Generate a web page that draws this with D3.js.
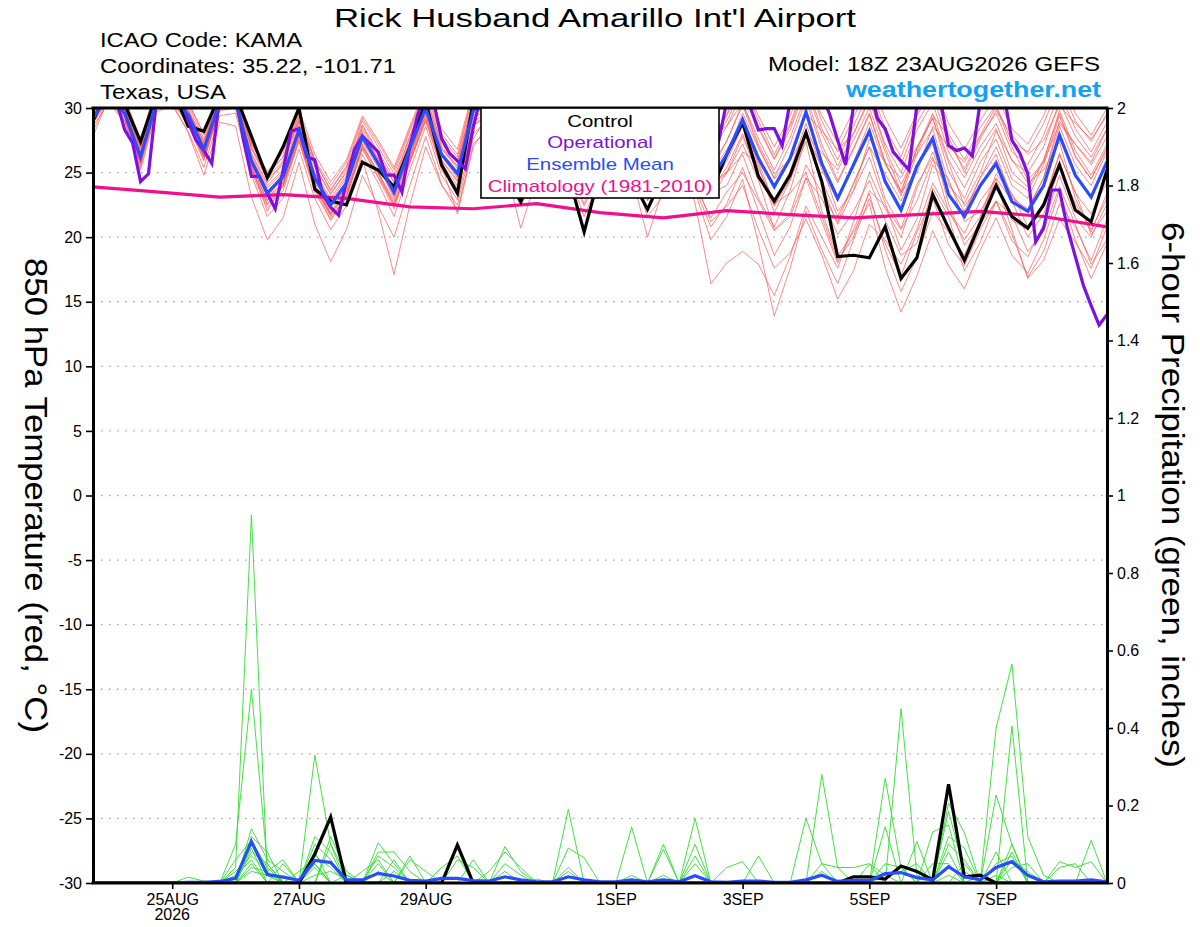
<!DOCTYPE html>
<html><head><meta charset="utf-8">
<script src="https://cdn.jsdelivr.net/npm/d3@7"></script>
<style>
html,body{margin:0;padding:0;background:#fff;}
svg{display:block;font-family:"Liberation Sans",Arial,Helvetica,sans-serif;}
</style></head><body>
<svg id="chart" width="1200" height="927"></svg>
<script>
// ---------------- DATA ----------------
const runStart = "2026-08-23T18:00:00Z";       // GEFS 18Z 23AUG2026, 6-hourly to +384h
const nSteps6h = 65;
const nSteps3h = 129;
const climDays = 17;

const tempTicks = [-30,-25,-20,-15,-10,-5,0,5,10,15,20,25,30];
const precipTicks = [0,0.2,0.4,0.6,0.8,1,1.2,1.4,1.6,1.8,2];
const xTickDates = ["2026-08-25","2026-08-27","2026-08-29","2026-09-01","2026-09-03","2026-09-05","2026-09-07"];
const xTickLabels = ["25AUG","27AUG","29AUG","1SEP","3SEP","5SEP","7SEP"];
const xYearLabel = "2026";

// Control (black) 850 hPa temperature, 6-hourly
const controlTemp = [29.0,31.5,30.3,27.4,31.0,31.5,28.6,28.2,31.0,31.0,
 27.8,24.6,27.0,30.0,23.7,22.8,22.5,25.8,25.2,23.9,
 27.0,30.5,25.6,23.4,30.5,31.0,25.0,22.75,25.5,29.5,
 24.8,20.4,25.0,29.0,24.5,22.15,24.8,29.5,27.0,23.5,
 26.4,28.9,24.7,22.8,24.8,28.1,24.3,18.5,18.6,18.4,
 20.8,16.8,18.4,23.3,20.7,18.2,21.1,24.0,21.6,20.7,
 22.5,25.6,22.1,21.2,25.2];

// Ensemble mean (blue)
const meanTemp = [29.2,31.0,29.6,26.2,30.5,31.0,29.5,26.8,30.5,30.5,
 25.9,23.4,24.7,28.3,24.6,22.5,24.2,27.8,25.7,23.5,
 26.9,30.0,26.4,24.9,29.8,30.5,27.5,25.0,27.5,30.0,
 27.0,24.5,27.0,30.0,27.5,25.0,27.0,30.0,27.5,24.5,
 26.4,29.1,26.1,23.9,26.1,29.7,25.7,23.0,25.6,28.2,
 24.3,22.1,25.5,27.65,23.3,21.6,24.0,25.7,22.75,22.0,
 24.0,27.9,24.8,23.1,25.85];

// Operational GFS (purple), 3-hourly
const operTemp = [30.5,31.5,32,30.5,28.3,27.3,24.3,24.9,30.5,32,
 32,31,29,27.5,26.7,25.7,31,32,31,27.5,
 24.7,24.7,23.4,22.2,25.2,28.2,28.4,26.2,26.0,23.3,
 22.3,21.7,24.3,26.8,27.8,27.2,26.6,24.8,24.8,23.5,
 27.0,29.5,31,30.5,27.65,26.5,25.9,25.3,28.5,31,
 32,31,29,27.5,26.5,27,30,32,33,31,
 28.5,26.5,25.5,26.5,29.5,31.5,32,30.5,28,26.5,
 25.5,27,29.5,31.5,32,30.5,28,26.5,26,27.5,
 30.5,32,32,30,28.3,28.4,28.4,27.1,30.5,32,
 33,32.5,31,29.5,27.5,25.6,30.2,31.5,32,29.2,
 28.4,26.6,25.9,25.2,30.2,32,32.5,30.5,27.1,26.7,
 26.9,26.3,30.5,32,32.5,31,27.5,26.5,24.9,19.65,
 20.7,23.65,23.65,20.7,18.5,16.3,14.7,13.2,14.0];

// Climatology 1981-2010 (pink), daily at 18Z
const climTemp = [23.9,23.5,23.1,23.3,23.0,22.35,22.2,22.6,21.9,21.5,22.05,21.75,21.5,21.75,22.0,21.6,20.8];

// Ensemble members (red), 6-hourly
const memberTemps = [
[29.5,31.5,30.2,26.8,31.0,31.8,29.8,27.2,31.2,31.0,26.5,24.2,25.8,29.0,25.5,23.4,25.0,28.6,26.4,24.3,27.8,30.8,27.2,25.8,30.5,31.2,28.3,25.6,28.4,30.9,27.6,25.0,27.9,30.6,28.0,25.2,27.8,30.9,28.2,25.0,27.5,30.2,27.0,24.6,27.2,30.6,26.8,24.2,26.9,29.6,25.8,23.4,26.9,29.2,25.1,23.0,25.8,27.6,24.5,23.6,25.9,29.8,26.7,24.8,27.2],
[28.8,30.6,29.0,25.4,30.0,30.5,28.7,25.9,29.8,30.0,25.0,22.3,23.6,27.4,23.5,21.3,23.1,26.9,24.6,22.2,25.8,29.1,25.2,23.6,28.7,29.6,26.2,23.6,26.3,28.9,25.8,23.2,25.6,28.7,26.0,23.5,25.4,27.0,24.0,21.5,23.5,25.0,22.8,20.5,21.6,24.6,23.0,20.2,22.0,24.4,21.3,18.6,19.5,23.8,21.6,17.4,19.6,22.8,21.7,18.9,20.5,23.9,21.0,17.9,19.8],
[29.3,31.2,29.8,26.0,30.8,31.3,29.2,26.4,30.7,30.8,26.2,23.8,25.0,28.6,24.9,22.8,24.6,28.0,26.1,23.8,27.3,30.4,26.9,25.3,30.3,31.0,28.0,25.8,28.2,30.8,28.2,25.9,28.4,31.2,28.9,26.5,28.5,31.3,29.0,26.5,28.6,31.2,28.4,26.0,28.3,31.6,28.0,25.5,28.0,30.6,27.2,25.0,28.3,30.4,26.6,24.6,27.0,28.8,25.9,25.0,27.0,30.5,27.8,26.2,28.4],
[27.8,30.8,29.3,25.6,30.2,30.4,28.1,24.8,28.9,28.6,23.1,19.8,21.5,25.8,21.0,18.1,20.6,24.8,22.4,20.0,24.0,27.8,24.1,22.0,27.2,28.5,25.0,22.4,25.3,28.1,25.2,22.6,25.4,28.5,26.0,23.4,25.6,28.8,26.2,23.6,25.4,28.0,24.9,22.5,24.8,28.2,24.4,21.6,24.1,27.0,23.0,20.7,24.1,26.2,22.0,20.3,22.8,24.5,21.3,20.6,22.7,26.5,23.4,21.8,24.3],
[29.6,31.4,30.0,26.5,30.9,31.5,29.6,27.0,30.8,30.9,26.0,23.1,24.2,28.0,24.0,21.6,23.0,26.0,22.0,17.1,22.5,27.0,24.0,22.5,27.6,29.6,27.0,24.6,27.0,29.8,26.6,23.9,26.3,29.4,26.0,22.8,24.5,27.6,23.5,19.8,21.6,24.5,19.5,13.9,17.6,22.0,19.0,16.4,19.8,23.0,19.5,17.0,20.4,23.0,19.4,17.8,20.6,22.8,19.7,18.5,21.0,24.8,21.5,20.0,22.6],
[29.8,32.0,30.8,27.6,31.6,32.2,30.5,28.0,31.6,31.8,27.3,25.0,26.2,29.6,26.0,24.0,25.8,29.2,27.3,25.2,28.4,31.4,28.0,26.4,31.2,31.8,29.0,26.8,29.0,31.6,28.6,26.0,28.6,31.4,28.5,26.0,28.1,31.0,29.2,27.8,28.6,30.4,27.2,24.9,26.0,29.6,28.2,26.8,28.0,30.8,26.9,24.1,26.5,29.4,27.8,25.0,27.6,29.8,27.9,26.4,27.5,30.2,28.8,27.6,29.4],
[29.1,31.0,29.4,25.9,30.4,30.9,29.0,26.3,30.2,30.3,25.6,22.8,24.0,27.8,23.9,21.8,23.6,27.2,25.0,22.6,26.0,29.4,25.6,21.8,27.0,28.8,25.6,20.7,24.6,28.0,25.0,21.6,24.6,28.0,24.8,20.0,23.8,27.3,22.6,16.4,18.0,18.9,17.9,15.5,18.5,22.4,20.0,17.6,21.2,25.0,22.2,20.0,23.8,26.6,23.4,21.8,24.6,27.0,24.0,23.0,25.6,29.4,26.2,24.5,27.0],
[29.4,31.3,30.0,26.6,30.7,31.2,29.6,27.0,30.9,31.0,26.4,24.0,25.2,28.9,25.0,23.0,24.8,28.4,26.3,24.2,27.5,30.6,27.0,25.5,30.4,31.2,28.4,26.0,28.5,31.0,28.3,26.0,28.5,31.3,29.0,26.9,29.0,32.0,29.8,27.4,29.5,32.0,29.4,27.0,29.4,32.4,29.0,26.6,29.3,31.8,28.4,26.2,29.4,31.5,28.0,26.0,28.5,30.2,27.4,26.6,28.8,31.8,29.0,27.4,29.6],
[29.2,30.9,29.5,26.1,30.5,31.0,29.3,26.7,30.4,30.6,25.8,23.2,24.5,28.2,24.4,22.3,23.9,27.5,25.6,23.0,26.6,29.8,26.3,24.6,29.6,30.2,27.2,24.8,27.3,29.6,26.4,23.7,26.4,29.4,26.8,24.1,26.0,29.1,26.3,23.4,24.0,26.6,25.8,22.6,23.4,25.0,21.6,18.2,20.0,23.6,22.4,20.6,22.8,26.0,24.5,21.2,22.0,24.2,20.6,16.8,18.2,21.4,19.6,17.6,20.8],
[29.0,30.7,29.1,25.7,30.1,30.6,28.8,26.2,30.0,30.1,25.3,22.6,23.9,27.6,23.8,21.7,23.3,27.0,24.9,22.4,25.9,29.2,25.7,24.0,28.9,29.8,26.8,24.2,26.8,29.4,26.3,23.6,26.1,29.2,26.6,23.9,25.8,28.9,26.0,23.0,25.0,27.8,24.8,22.4,24.5,27.4,22.0,18.5,20.4,22.6,17.6,14.2,17.0,20.5,17.8,16.0,19.0,21.5,18.6,17.2,19.8,23.6,19.8,16.8,19.5],
[29.5,31.6,30.3,27.0,31.1,31.7,29.9,27.3,31.1,31.3,26.8,24.5,25.6,29.3,25.4,23.3,25.2,28.7,26.6,24.6,27.8,30.9,27.4,25.9,30.6,31.4,28.6,26.3,28.6,31.2,28.0,25.4,27.8,30.6,27.6,24.9,26.8,29.6,26.5,23.8,25.9,28.6,25.3,22.8,25.1,28.8,25.2,22.8,25.8,28.9,25.6,23.6,26.8,29.6,26.0,23.8,26.4,28.4,25.0,23.9,26.0,29.6,26.3,24.5,26.8],
[28.2,30.8,29.2,25.8,30.2,30.8,28.9,26.0,29.9,30.0,25.2,22.5,24.0,27.5,23.7,21.4,23.2,26.8,24.7,22.5,25.8,29.0,25.4,23.8,28.6,29.5,26.5,24.0,26.6,29.0,26.0,23.4,25.9,28.8,25.9,22.9,24.6,27.6,24.4,21.2,22.4,24.0,20.6,17.6,18.8,21.4,18.6,15.2,17.4,21.0,19.8,17.9,20.6,24.2,22.0,19.8,21.6,24.9,23.4,20.8,22.6,26.4,23.5,20.2,22.0],
[29.7,31.8,30.5,27.3,31.4,32.0,30.2,27.6,31.4,31.5,27.0,24.6,25.9,29.5,25.8,23.7,25.5,29.0,27.0,24.9,28.2,31.2,27.7,26.2,31.0,31.6,28.8,26.5,28.8,31.4,28.9,26.6,29.0,31.8,29.4,27.1,29.2,32.0,29.5,27.0,29.0,31.6,28.6,26.1,28.6,31.8,28.4,26.0,28.6,31.3,28.0,25.6,28.8,31.0,27.3,25.3,27.8,29.6,26.6,25.6,27.9,31.2,28.4,26.6,28.9],
[29.3,31.1,29.7,26.3,30.6,31.1,29.4,26.6,30.5,30.6,25.9,23.5,24.9,28.4,24.7,22.6,24.3,27.9,25.9,23.6,27.0,30.2,26.6,25.1,29.9,30.6,27.6,25.1,27.6,30.1,27.0,24.3,26.8,29.9,27.0,24.2,26.2,29.4,26.5,23.8,25.0,26.4,23.0,20.8,23.6,27.8,25.5,22.0,23.6,26.2,22.6,19.0,21.4,25.6,24.0,22.6,25.0,28.2,26.0,24.2,25.2,27.4,23.0,20.4,23.4],
[29.4,31.3,29.9,26.4,30.8,31.4,29.6,26.9,30.7,30.9,26.1,23.6,24.8,28.4,24.6,22.4,24.1,27.7,25.6,23.3,26.8,30.1,26.4,24.8,29.8,30.6,27.8,25.4,27.9,30.5,27.6,25.1,27.6,30.6,28.0,25.6,27.6,30.6,28.0,25.5,27.4,30.4,27.6,25.2,27.7,31.0,27.2,24.4,26.8,29.5,25.8,23.2,26.4,28.4,24.2,22.0,24.6,26.4,23.0,22.2,24.6,28.6,25.6,24.0,26.6],
[29.0,30.9,29.4,25.8,30.3,30.8,29.0,26.2,30.1,30.2,25.4,22.9,24.2,27.9,24.0,21.8,23.5,27.1,25.0,22.8,26.2,29.5,25.9,24.3,29.2,30.0,27.0,24.5,27.0,29.6,26.8,24.0,26.6,29.6,27.2,24.6,26.6,29.6,27.0,24.4,26.4,29.6,26.9,24.5,26.0,28.0,24.0,21.0,23.6,27.6,25.8,24.6,27.0,29.2,25.8,22.4,24.0,26.0,23.2,22.0,24.6,29.0,27.2,25.8,28.4],
[29.1,31.2,29.9,26.9,30.9,31.6,29.9,27.4,31.0,31.1,26.9,24.8,26.2,29.1,25.9,23.6,25.4,28.2,26.0,23.2,26.2,29.9,26.8,25.5,30.2,30.9,27.4,24.6,26.9,29.4,26.4,23.0,25.3,28.5,25.9,23.1,25.0,28.1,26.6,24.9,26.8,29.0,25.6,21.9,24.4,28.0,26.5,25.2,27.5,30.0,26.6,23.5,25.0,28.6,27.0,25.8,27.9,30.1,27.0,24.4,25.8,28.8,27.2,25.6,27.8],
[28.6,30.4,28.9,25.2,29.7,30.2,28.2,25.4,29.4,29.6,24.8,21.6,23.0,26.8,23.0,20.6,22.4,26.4,24.2,21.6,25.2,28.6,24.8,22.9,28.0,29.2,26.0,23.2,25.8,28.6,25.2,22.4,25.0,28.2,25.2,21.6,23.2,26.4,23.8,20.8,22.6,25.4,22.0,18.6,20.8,24.6,21.2,18.0,20.6,23.4,19.0,15.8,18.4,22.0,20.4,18.6,21.4,24.6,22.8,20.0,21.8,25.4,22.6,20.6,23.0],
[29.9,31.9,30.6,27.5,31.5,32.1,30.4,27.9,31.5,31.6,27.2,25.1,26.5,29.9,26.4,24.3,26.0,29.4,27.5,25.4,28.6,31.6,28.4,26.8,31.4,32.0,29.3,27.0,29.3,31.8,29.2,27.0,29.4,32.2,29.9,27.6,29.6,32.3,30.0,27.6,29.4,32.0,29.0,26.4,28.8,32.2,29.4,27.3,29.8,32.3,29.2,26.9,29.6,32.0,28.8,26.8,29.0,31.0,28.4,27.2,29.4,32.4,29.6,27.9,30.0],
[29.2,31.0,29.8,26.6,30.6,31.2,29.2,26.2,30.0,30.4,25.6,22.0,24.2,28.0,24.2,21.9,24.0,27.4,25.4,23.2,26.4,29.6,26.0,24.4,29.4,30.4,27.2,24.2,26.6,29.2,26.9,24.8,27.3,30.2,27.8,25.4,27.4,30.6,27.6,24.2,25.0,27.2,24.4,20.6,21.8,25.6,23.4,21.2,24.2,27.0,24.9,22.8,25.6,27.2,22.6,19.4,21.0,22.8,20.2,16.9,18.9,22.6,20.8,18.2,21.4]
];

// 6-hour precipitation (inches)
const controlPrecip = [0,0,0,0,0,0,0,0,0,0,
 0,0,0,0,0.075,0.17,0,0,0,0,
 0,0,0,0.098,0,0,0,0,0,0,
 0,0,0,0,0,0,0,0,0,0,
 0,0,0,0,0,0,0,0,0.016,0.016,
 0.01,0.044,0.03,0.008,0.255,0.016,0.02,0,0,0,
 0,0,0,0,0];
const meanPrecip = [0,0,0,0,0,0,0.002,0.002,0.004,0.012,
 0.107,0.022,0.015,0.007,0.058,0.053,0.008,0.008,0.025,0.018,
 0.007,0.005,0.012,0.012,0.006,0.005,0.016,0.008,0.003,0.003,
 0.016,0.008,0.003,0.003,0.008,0.003,0.008,0.003,0.019,0.003,
 0.002,0.005,0.005,0.002,0.002,0.008,0.02,0.004,0.007,0.006,
 0.024,0.027,0.014,0.008,0.042,0.016,0.008,0.04,0.055,0.02,
 0.003,0.005,0.005,0.008,0.003];
const memberPrecips = [
[0,0,0,0,0,0,0,0,0,0.04, 0.95,0.02,0,0,0.05,0,0,0,0,0, 0,0,0,0,0,0,0.03,0,0,0, 0,0,0,0,0,0,0,0,0,0, 0,0,0,0,0,0,0.28,0.04,0.04,0.05, 0.02,0,0,0,0,0,0,0,0.1,0, 0,0,0,0,0],
[0,0,0,0,0,0,0,0,0,0.1, 0.5,0.05,0,0,0,0.1,0,0,0,0, 0,0,0,0,0,0,0,0,0,0, 0.19,0,0,0,0,0,0,0,0,0, 0,0,0,0,0,0,0,0,0,0, 0.27,0.04,0,0,0.02,0,0,0.02,0,0, 0,0,0,0,0],
[0,0,0,0,0,0,0,0,0,0, 0.14,0.06,0.03,0,0.33,0.1,0.02,0,0,0, 0,0,0,0,0,0,0,0,0,0, 0,0,0,0,0.144,0,0,0,0,0, 0,0,0,0,0,0,0,0,0,0, 0,0.45,0.02,0,0,0,0,0,0,0, 0,0,0,0,0],
[0,0,0,0,0,0,0,0,0,0.06, 0.11,0.04,0,0,0.12,0.08,0,0,0.104,0.05, 0,0,0,0,0,0,0,0,0,0, 0,0,0,0,0,0,0,0,0.167,0, 0,0,0,0,0,0,0,0,0,0, 0,0,0,0,0.206,0.13,0,0.4,0.565,0.12, 0.02,0,0,0,0],
[0,0,0,0,0,0,0.015,0.005,0,0, 0.09,0,0.05,0,0.08,0,0,0,0.08,0.08, 0.03,0,0,0,0,0,0,0,0,0, 0,0,0,0,0,0,0.1,0,0,0, 0,0,0,0,0,0.167,0.05,0,0,0, 0,0,0,0.132,0.15,0,0,0,0.405,0, 0,0,0,0,0],
[0,0,0,0,0,0,0,0,0,0, 0.12,0.08,0,0.03,0.06,0.05,0,0.03,0.06,0, 0.07,0,0,0.06,0.04,0,0,0,0,0, 0,0,0,0,0,0,0,0,0.1,0, 0,0,0,0,0,0,0,0,0,0, 0.145,0,0.107,0,0,0,0,0.227,0.1,0, 0,0,0,0.11,0],
[0,0,0,0,0,0,0,0,0,0.03, 0.07,0.03,0.06,0,0,0.12,0.03,0,0,0.06, 0,0,0.04,0.07,0,0,0.094,0.03,0,0, 0.09,0.065,0,0,0,0,0,0,0,0, 0,0,0,0,0,0,0,0,0,0, 0,0,0,0,0.185,0.03,0,0,0,0, 0,0.055,0.04,0.055,0],
[0,0,0,0,0,0,0,0,0,0, 0.05,0,0,0,0.1,0.06,0,0,0.07,0.04, 0,0,0,0,0,0.03,0.08,0.04,0,0, 0,0,0,0,0,0,0.087,0,0.07,0, 0,0,0.07,0,0,0,0.05,0.04,0,0, 0,0,0,0,0,0.05,0,0,0.06,0.03, 0,0,0,0,0],
[0,0,0,0,0,0,0,0,0,0, 0.04,0.03,0,0,0.04,0,0.02,0,0,0, 0.06,0.03,0,0,0.06,0,0,0,0.01,0, 0,0,0,0,0,0,0,0,0,0, 0.04,0.055,0,0,0,0,0,0,0,0.048, 0,0,0,0,0.1,0.06,0,0.08,0,0, 0,0,0,0,0],
[0,0,0,0,0,0,0,0,0,0, 0.08,0.05,0,0,0.07,0.04,0,0,0.05,0, 0,0,0,0,0,0,0,0,0,0, 0.03,0,0,0,0.02,0,0,0,0.05,0, 0,0,0,0,0,0,0,0,0,0, 0.05,0.04,0,0,0.08,0,0,0,0.08,0, 0,0.04,0.05,0,0],
[0,0,0,0,0,0,0,0,0,0, 0.03,0.02,0,0,0.02,0.03,0.01,0,0,0.03, 0,0,0,0,0,0,0.05,0.02,0,0, 0,0,0,0,0,0,0,0,0,0, 0,0,0,0,0,0,0,0,0,0, 0,0,0,0.05,0.05,0,0.02,0,0.04,0.05, 0,0,0,0,0],
[0,0,0,0,0,0,0,0,0,0.02, 0.06,0,0,0,0.05,0,0,0,0.03,0, 0,0,0,0,0,0,0,0,0,0, 0.04,0,0,0,0,0,0.02,0,0,0, 0,0,0,0,0,0,0.03,0,0,0, 0.02,0.03,0.05,0,0.12,0.09,0,0.05,0.07,0, 0,0,0,0,0]
];

const legendItems = [
  {label:"Control", color:"#000000"},
  {label:"Operational", color:"#8010e0"},
  {label:"Ensemble Mean", color:"#2a4cff"},
  {label:"Climatology (1981-2010)", color:"#f0108c"}
];

// ---------------- LAYOUT ----------------
const W = 1200, H = 927;
const L = 93, R = 1107, T = 108, B = 883;
const COL = {control:"#000000", oper:"#8010e0", mean:"#2a4cff", clim:"#f0108c", member:"#ff5252", precip:"#2ede2e"};

const t0 = new Date(runStart);
const hour = 3600e3;
const times6 = d3.range(nSteps6h).map(i => new Date(+t0 + i*6*hour));
const times3 = d3.range(nSteps3h).map(j => new Date(+t0 + j*3*hour));
const timesClim = d3.range(climDays).map(k => new Date(+t0 + k*24*hour));

const svg = d3.select("#chart");
svg.append("rect").attr("width", W).attr("height", H).attr("fill", "#fff");

const x = d3.scaleUtc().domain([times6[0], times6[nSteps6h-1]]).range([L, R]);
const yT = d3.scaleLinear().domain([-30, 30]).range([B, T]);
const yP = d3.scaleLinear().domain([0, 2]).range([B, T]);

svg.append("defs").append("clipPath").attr("id", "clip")
  .append("rect").attr("x", L).attr("y", T).attr("width", R - L).attr("height", B - T);

// grid
svg.append("g").selectAll("line").data(tempTicks.filter(v => v > -30 && v < 30)).join("line")
  .attr("x1", L).attr("x2", R).attr("y1", d => yT(d)).attr("y2", d => yT(d))
  .attr("stroke", "#a8a8a8").attr("stroke-width", 1.4).attr("stroke-dasharray", "1.6,6.4");

const plot = svg.append("g").attr("clip-path", "url(#clip)");

const lineT6 = d3.line().x((d, i) => x(times6[i])).y(d => yT(d));
const lineT3 = d3.line().x((d, i) => x(times3[i])).y(d => yT(d));
const lineClim = d3.line().x((d, i) => x(timesClim[i])).y(d => yT(d));
const lineP6 = d3.line().x((d, i) => x(times6[i])).y(d => yP(d));

// precipitation members
plot.append("g").selectAll("path").data(memberPrecips).join("path")
  .attr("d", lineP6).attr("fill", "none").attr("stroke", COL.precip).attr("stroke-width", 0.9);
// temperature members
plot.append("g").selectAll("path").data(memberTemps).join("path")
  .attr("d", lineT6).attr("fill", "none").attr("stroke", COL.member).attr("stroke-width", 0.8).attr("stroke-opacity", 0.85);

// climatology
plot.append("path").datum(climTemp).attr("d", lineClim).attr("fill", "none")
  .attr("stroke", COL.clim).attr("stroke-width", 3.2).attr("stroke-linejoin", "round");
// control temp
plot.append("path").datum(controlTemp).attr("d", lineT6).attr("fill", "none")
  .attr("stroke", COL.control).attr("stroke-width", 3.2);
// operational
plot.append("path").datum(operTemp).attr("d", lineT3).attr("fill", "none")
  .attr("stroke", COL.oper).attr("stroke-width", 3.2);
// mean
plot.append("path").datum(meanTemp).attr("d", lineT6).attr("fill", "none")
  .attr("stroke", COL.mean).attr("stroke-width", 3.2);
// precip control & mean
plot.append("path").datum(controlPrecip).attr("d", lineP6).attr("fill", "none")
  .attr("stroke", COL.control).attr("stroke-width", 3.2);
plot.append("path").datum(meanPrecip).attr("d", lineP6).attr("fill", "none")
  .attr("stroke", COL.mean).attr("stroke-width", 3.2);

// ---------------- AXES ----------------
function styleAxis(g) {
  g.select(".domain").attr("stroke", "#000").attr("stroke-width", 3);
  g.selectAll(".tick line").attr("stroke", "#000").attr("stroke-width", 1.6);
  g.selectAll(".tick text").attr("fill", "#000").attr("font-size", 16)
    .attr("font-family", '"Liberation Sans",Arial,sans-serif');
}
const fmtP = d => String(+d.toFixed(1));
svg.append("g").attr("transform", `translate(${L},0)`)
  .call(d3.axisLeft(yT).tickValues(tempTicks).tickSize(7).tickSizeOuter(0).tickPadding(4).tickFormat(d => String(d)))
  .call(styleAxis);
svg.append("g").attr("transform", `translate(${R},0)`)
  .call(d3.axisRight(yP).tickValues(precipTicks).tickSize(6).tickSizeOuter(0).tickPadding(4).tickFormat(fmtP))
  .call(styleAxis);

// top border
svg.append("line").attr("x1", L - 1.5).attr("x2", R + 1.5).attr("y1", T).attr("y2", T)
  .attr("stroke", "#000").attr("stroke-width", 3);
// bottom axis
const xTicks = xTickDates.map(s => new Date(s + "T00:00:00Z"));
const xAxis = d3.axisBottom(x).tickValues(xTicks).tickSize(6).tickSizeOuter(0).tickPadding(5)
  .tickFormat((d, i) => xTickLabels[i]);
const gx = svg.append("g").attr("transform", `translate(0,${B})`).call(xAxis).call(styleAxis);
gx.select(".domain").attr("d", `M${L - 1.5},0H${R + 1.5}`);
gx.append("text").attr("x", x(xTicks[0])).attr("y", 37).attr("text-anchor", "middle")
  .attr("font-size", 16).attr("fill", "#000").text(xYearLabel);

// axis titles
svg.append("text").attr("transform", "translate(25,495.5) rotate(90)")
  .attr("text-anchor", "middle").attr("font-size", 32).attr("fill", "#000")
  .attr("textLength", 475).attr("lengthAdjust", "spacingAndGlyphs")
  .text("850 hPa Temperature (red, °C)");
svg.append("text").attr("transform", "translate(1162,495) rotate(90)")
  .attr("text-anchor", "middle").attr("font-size", 32).attr("fill", "#000")
  .attr("textLength", 546).attr("lengthAdjust", "spacingAndGlyphs")
  .text("6-hour Precipitation (green, inches)");

// ---------------- HEADER ----------------
function hdr(txt, xx, yy, size, len, anchor, opts = {}) {
  return svg.append("text").attr("x", xx).attr("y", yy).attr("font-size", size)
    .attr("text-anchor", anchor).attr("fill", opts.fill || "#000")
    .attr("font-weight", opts.bold ? "bold" : "normal")
    .attr("textLength", len).attr("lengthAdjust", "spacingAndGlyphs").text(txt);
}
hdr("Rick Husband Amarillo Int'l Airport", 595, 27, 26, 522, "middle");
hdr("ICAO Code: KAMA", 100, 47, 21, 202, "start");
hdr("Coordinates: 35.22, -101.71", 100, 73, 21, 296, "start");
hdr("Texas, USA", 100, 99, 21, 126, "start");
hdr("Model: 18Z 23AUG2026 GEFS", 1100, 71, 21, 332, "end");
hdr("weathertogether.net", 1101, 97, 22, 255, "end", {bold: true, fill: "#12a2f5"});

// ---------------- LEGEND ----------------
const lg = svg.append("g");
lg.append("rect").attr("x", 481).attr("y", T).attr("width", 238).attr("height", 90)
  .attr("fill", "#fff").attr("stroke", "#000").attr("stroke-width", 1.6);
const legendLens = [65.6, 105.6, 147.6, 224.6];
const legendY = [127, 148, 169.5, 191.5];
lg.selectAll("text").data(legendItems).join("text")
  .attr("x", 600).attr("y", (d, i) => legendY[i]).attr("text-anchor", "middle")
  .attr("font-size", 17).attr("fill", d => d.color)
  .attr("textLength", (d, i) => legendLens[i]).attr("lengthAdjust", "spacingAndGlyphs")
  .text(d => d.label);
</script>
</body></html>
